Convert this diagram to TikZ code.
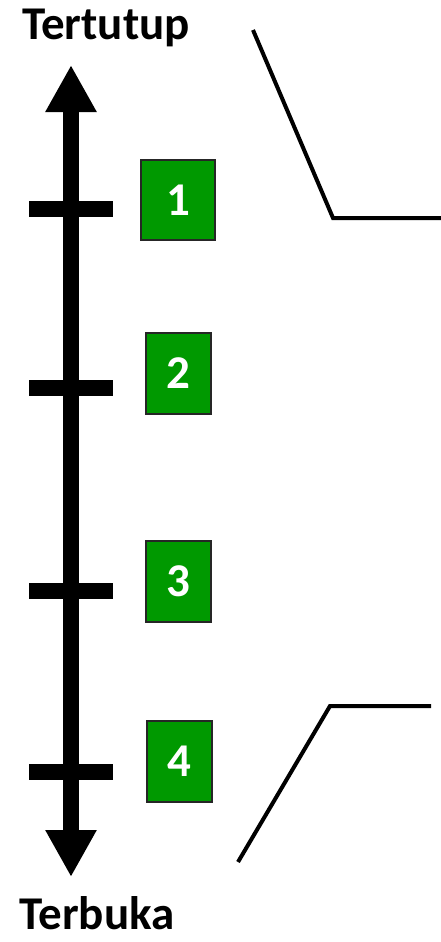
\documentclass[tikz,border=0pt]{standalone}
\usepackage{fontspec}
\setmainfont{Carlito}
\usetikzlibrary{arrows.meta, positioning}
\definecolor{boxgreen}{RGB}{0,153,0}

\begin{document}
\begin{tikzpicture}[x=1pt, y=-1pt,
    font=\fontsize{47}{54}\selectfont\bfseries,
    numbox/.style={draw=black!85, line width=1.5pt, fill=boxgreen,
                   text=white, inner sep=0pt,
                   minimum width=65pt, minimum height=81pt},
    endlabel/.style={anchor=base, inner sep=0pt},
    tickbar/.style={line width=16pt},
    bracket/.style={line width=4pt, line join=miter}]
  \useasboundingbox (0,0) rectangle (441,942);

  % end labels
  \node[endlabel] (closed) at (106,40) {Tertutup};
  \node[endlabel] (open) at (97,929) {Terbuka};

  % scale with arrow heads at both ends
  \coordinate (top) at (71,65);
  \coordinate (bottom) at (71,877);
  \draw[line width=16pt,
        {Triangle[width=48pt,length=47pt]}-{Triangle[width=48pt,length=47pt]}]
    (top) -- (bottom);
  \draw[tickbar] (29,209) -- (113,209);
  \draw[tickbar] (29,388) -- (113,388);
  \draw[tickbar] (29,591) -- (113,591);
  \draw[tickbar] (29,772) -- (113,772);

  % numbered levels
  \node[numbox, minimum width=74pt, minimum height=80pt] (lvl1) at (178,200) {1};
  \node[numbox] (lvl2) at (178.5,373.5) {2};
  \node[numbox] (lvl3) at (178.5,581.5) {3};
  \node[numbox] (lvl4) at (179.5,761.5) {4};

  % brackets
  \coordinate (ua) at (253,30);
  \coordinate (ub) at (333,218);
  \coordinate (uc) at (443,218);
  \draw[bracket] (ua) -- (ub) -- (uc);
  \coordinate (la) at (238,862);
  \coordinate (lb) at (330,706);
  \coordinate (lc) at (431,706);
  \draw[bracket] (la) -- (lb) -- (lc);
\end{tikzpicture}
\end{document}
